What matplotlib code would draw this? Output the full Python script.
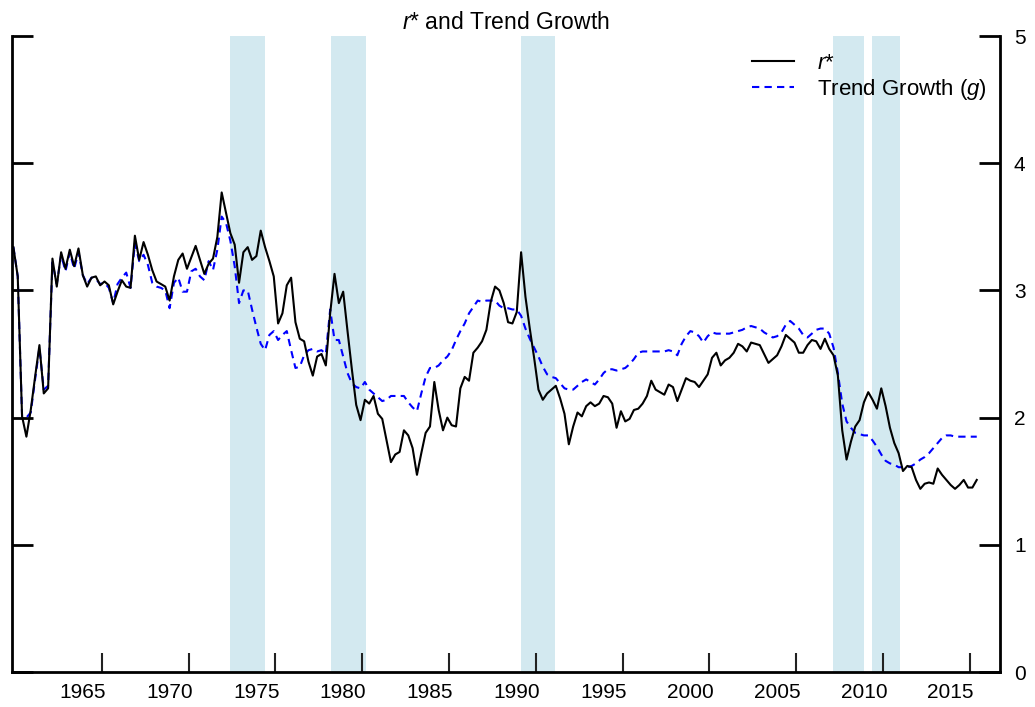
import numpy as np
import matplotlib
matplotlib.use('Agg')
from matplotlib import pyplot as plt

plt.rcParams['font.family'] = ['Liberation Sans', 'DejaVu Sans']
plt.rcParams['mathtext.fontset'] = 'custom'
plt.rcParams['mathtext.rm'] = 'Liberation Sans'
plt.rcParams['mathtext.it'] = 'Liberation Sans:italic'

# quarterly estimates, 1961Q1 onward
start_year = 1961.0
rstar = [3.34, 3.11, 2.01, 1.85, 2.06, 2.32, 2.57, 2.19, 2.23, 3.25, 3.03, 3.30, 3.17,
         3.32, 3.19, 3.33, 3.12, 3.03, 3.10, 3.11, 3.04, 3.07, 3.04, 2.89, 2.99, 3.08,
         3.03, 3.02, 3.43, 3.24, 3.38, 3.28, 3.16, 3.07, 3.05, 3.03, 2.92, 3.11, 3.24,
         3.29, 3.17, 3.26, 3.35, 3.24, 3.13, 3.21, 3.25, 3.42, 3.77, 3.61, 3.45, 3.36,
         3.06, 3.30, 3.34, 3.24, 3.27, 3.47, 3.34, 3.23, 3.11, 2.74, 2.82, 3.04, 3.10,
         2.75, 2.62, 2.60, 2.44, 2.33, 2.48, 2.50, 2.41, 2.82, 3.13, 2.90, 2.99,
         2.68, 2.38, 2.10, 1.98, 2.14, 2.11, 2.17, 2.03, 1.99, 1.82, 1.65, 1.71, 1.73,
         1.90, 1.86, 1.76, 1.55, 1.72, 1.88, 1.93, 2.28, 2.06, 1.90, 2.00, 1.94, 1.93,
         2.23, 2.32, 2.29, 2.51, 2.55, 2.60, 2.69, 2.91, 3.03, 3.00, 2.90, 2.75,
         2.74, 2.83, 3.30, 2.95, 2.70, 2.47, 2.22, 2.14, 2.19, 2.22, 2.25, 2.15, 2.03,
         1.79, 1.93, 2.04, 2.01, 2.09, 2.12, 2.09, 2.11, 2.17, 2.16, 2.11, 1.92, 2.05,
         1.97, 1.99, 2.06, 2.07, 2.11, 2.17, 2.29, 2.22, 2.20, 2.18, 2.26, 2.24,
         2.13, 2.22, 2.31, 2.29, 2.28, 2.24, 2.29, 2.34, 2.47, 2.51, 2.41, 2.45, 2.47,
         2.51, 2.58, 2.56, 2.52, 2.59, 2.58, 2.57, 2.50, 2.43, 2.46, 2.49, 2.56, 2.65,
         2.62, 2.59, 2.51, 2.51, 2.57, 2.61, 2.60, 2.54, 2.62, 2.54, 2.49, 2.33,
         1.90, 1.67, 1.81, 1.93, 1.98, 2.12, 2.20, 2.14, 2.07, 2.23, 2.09, 1.92, 1.80,
         1.72, 1.58, 1.62, 1.61, 1.51, 1.44, 1.48, 1.49, 1.48, 1.60, 1.55, 1.51, 1.47,
         1.44, 1.47, 1.51, 1.45, 1.45, 1.51]

trend_g = [3.34, 3.11, 2.01, 2.00, 2.04, 2.30, 2.55, 2.22, 2.25, 3.22, 3.05, 3.28, 3.15,
           3.30, 3.17, 3.30, 3.12, 3.05, 3.10, 3.09, 3.05, 3.06, 3.02, 2.90, 3.05, 3.10,
           3.14, 3.02, 3.37, 3.23, 3.28, 3.20, 3.06, 3.03, 3.02, 3.00, 2.86, 3.06, 3.10,
           2.99, 2.99, 3.15, 3.17, 3.11, 3.08, 3.23, 3.16, 3.32, 3.58, 3.53, 3.39, 3.19,
           2.90, 3.00, 3.00, 2.85, 2.71, 2.58, 2.53, 2.65, 2.68, 2.61, 2.65, 2.68, 2.53,
           2.39, 2.40, 2.49, 2.53, 2.54, 2.52, 2.53, 2.50, 2.85, 2.61, 2.61, 2.48,
           2.35, 2.27, 2.24, 2.23, 2.28, 2.22, 2.19, 2.16, 2.13, 2.14, 2.17, 2.17, 2.17,
           2.17, 2.12, 2.08, 2.05, 2.19, 2.32, 2.39, 2.39, 2.41, 2.45, 2.48, 2.53, 2.61,
           2.68, 2.74, 2.82, 2.87, 2.92, 2.91, 2.92, 2.92, 2.92, 2.88, 2.86, 2.86,
           2.85, 2.85, 2.80, 2.70, 2.62, 2.55, 2.48, 2.40, 2.34, 2.32, 2.31, 2.27, 2.23,
           2.22, 2.22, 2.25, 2.28, 2.30, 2.28, 2.26, 2.30, 2.35, 2.38, 2.38, 2.37, 2.38,
           2.39, 2.42, 2.46, 2.51, 2.52, 2.52, 2.52, 2.52, 2.52, 2.52, 2.53, 2.52,
           2.49, 2.58, 2.64, 2.68, 2.67, 2.64, 2.59, 2.64, 2.67, 2.66, 2.66, 2.66, 2.66,
           2.67, 2.68, 2.69, 2.71, 2.72, 2.71, 2.70, 2.67, 2.65, 2.63, 2.64, 2.67, 2.73,
           2.76, 2.73, 2.70, 2.65, 2.63, 2.66, 2.69, 2.70, 2.70, 2.66, 2.55, 2.35,
           2.11, 1.97, 1.92, 1.88, 1.87, 1.86, 1.86, 1.82, 1.77, 1.71, 1.66, 1.64, 1.63,
           1.61, 1.61, 1.61, 1.62, 1.64, 1.67, 1.69, 1.72, 1.76, 1.80, 1.84, 1.86, 1.86,
           1.85, 1.85, 1.85, 1.85, 1.85, 1.85]

# shaded periods (start, end) in years
shade_start = [1973.48, 1979.30, 1990.25, 2008.20, 2010.44]
shade_end = [1975.50, 1981.32, 1992.20, 2010.00, 2012.07]

label_years = [1965, 1970, 1975, 1980, 1985, 1990, 1995, 2000, 2005, 2010, 2015]
y_ticks = [0, 1, 2, 3, 4, 5]

t = start_year + np.arange(len(rstar)) / 4.0

fig = plt.figure(figsize=(10.35, 7.07), dpi=100)
ax = fig.add_axes([12/1035, 35/707, 988/1035, 636/707])

for s, e in zip(shade_start, shade_end):
    ax.axvspan(s, e, color='#d3e9f0', lw=0, zorder=0)

ax.plot(t, rstar, color='black', lw=1.5, label='$r$*', zorder=3)
ax.plot(t, trend_g, color='#0000ff', lw=1.5, ls=(0, (3.5, 2.5)),
        label='Trend Growth ($g$)', zorder=2)

ax.set_xlim(1960.92, 2017.84)
ax.set_ylim(0, 5)

ax.spines['top'].set_visible(False)
for side in ['left', 'right', 'bottom']:
    ax.spines[side].set_linewidth(2)

ax.set_yticks(y_ticks)
ax.tick_params(axis='y', direction='in', left=True, right=True, labelleft=False,
               labelright=True, length=15, width=2, labelsize=15, pad=10)

ax.set_xticks(label_years)
ax.set_xticklabels([str(y) for y in label_years])
ax.set_xticks([y + 1.1 for y in label_years], minor=True)
ax.tick_params(axis='x', which='major', length=0, labelsize=15, pad=8)
ax.tick_params(axis='x', which='minor', direction='in', length=14, width=1.5,
               colors='#222222')

ax.set_title('$r$* and Trend Growth', fontsize=16.5, pad=5)

ax.legend(loc='upper right', bbox_to_anchor=(1.0, 0.995), frameon=False,
          fontsize=16, handlelength=1.9, handletextpad=1.0, labelspacing=0.15,
          borderaxespad=0.2)

plt.savefig('out.png', dpi=100)
